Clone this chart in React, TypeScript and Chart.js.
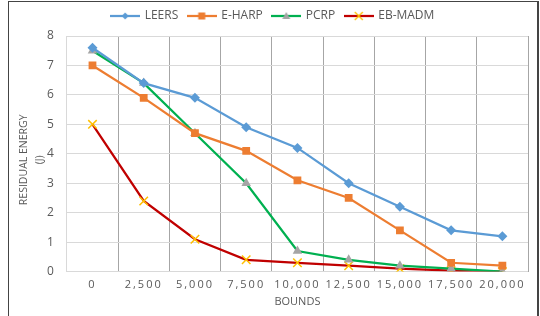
import React, { useEffect, useRef } from "react";
import { Chart, registerables } from "chart.js";

Chart.register(...registerables);

const categories = ["0", "2,500", "5,000", "7,500", "10,000", "12,500", "15,000", "17,500", "20,000"];
const leers = [7.6, 6.4, 5.9, 4.9, 4.2, 3.0, 2.2, 1.4, 1.2];
const eharp = [7.0, 5.9, 4.7, 4.1, 3.1, 2.5, 1.4, 0.3, 0.2];
const pcrp = [7.5, 6.4, 4.7, 3.0, 0.7, 0.4, 0.2, 0.1, 0.0];
const ebmadm = [5.0, 2.4, 1.1, 0.4, 0.3, 0.2, 0.1, 0.03, 0.0];
const yTicks = [0, 1, 2, 3, 4, 5, 6, 7, 8];
const yTitle = ["RESIDUAL ENERGY", "(J)"];

const FONT = "'Open Sans', sans-serif";
const TXT = "#595959";

function legendImage(line: string, marker: string, style: string): HTMLCanvasElement {
  const c = document.createElement("canvas");
  c.width = 30;
  c.height = 12;
  const ctx = c.getContext("2d")!;
  ctx.strokeStyle = line;
  ctx.lineWidth = 2.25;
  ctx.beginPath();
  ctx.moveTo(0, 6);
  ctx.lineTo(30, 6);
  ctx.stroke();
  const cx = 15, cy = 6;
  ctx.fillStyle = marker;
  ctx.strokeStyle = marker;
  if (style === "diamond") {
    ctx.beginPath();
    ctx.moveTo(cx, cy - 3.5);
    ctx.lineTo(cx + 3.5, cy);
    ctx.lineTo(cx, cy + 3.5);
    ctx.lineTo(cx - 3.5, cy);
    ctx.closePath();
    ctx.fill();
  } else if (style === "square") {
    ctx.fillRect(cx - 3.5, cy - 3.5, 7, 7);
  } else if (style === "triangle") {
    ctx.beginPath();
    ctx.moveTo(cx, cy - 4);
    ctx.lineTo(cx + 4, cy + 3);
    ctx.lineTo(cx - 4, cy + 3);
    ctx.closePath();
    ctx.fill();
  } else {
    ctx.lineWidth = 1.3;
    ctx.beginPath();
    ctx.moveTo(cx - 4, cy - 4);
    ctx.lineTo(cx + 4, cy + 4);
    ctx.moveTo(cx + 4, cy - 4);
    ctx.lineTo(cx - 4, cy + 4);
    ctx.stroke();
  }
  return c;
}

export default function App() {
  const ref = useRef<HTMLCanvasElement>(null);
  useEffect(() => {
    const canvas = ref.current!;
    const imgs = [
      legendImage("#5B9BD5", "#5B9BD5", "diamond"),
      legendImage("#ED7D31", "#ED7D31", "square"),
      legendImage("#00B050", "#A5A5A5", "triangle"),
      legendImage("#C00000", "#FFC000", "x"),
    ];
    const helperPlugin = {
      id: "helper",
      beforeLayout(chart: any) {
        const lg = chart.legend;
        if (lg && !lg._patched) {
          const origFit = lg.fit.bind(lg);
          lg.fit = () => {
            origFit();
            lg.height += 4;
          };
          lg._patched = true;
        }
      },
      afterLayout(chart: any) {
        const s = chart.scales.x;
        if (s && !s._patched) {
          const orig = s.drawLabels.bind(s);
          s.drawLabels = (area: any) => {
            const ctx = chart.ctx;
            ctx.save();
            (ctx as any).letterSpacing = "2px";
            orig(area);
            ctx.restore();
          };
          s._patched = true;
        }
      },
      afterDraw(chart: any) {
        const ctx = chart.ctx;
        const y = chart.scales.y;
        const cy = (chart.chartArea.top + chart.chartArea.bottom) / 2 + 6;
        ctx.save();
        ctx.fillStyle = TXT;
        ctx.font = `10.5px ${FONT}`;
        ctx.textAlign = "center";
        ctx.textBaseline = "middle";
        const xs = [y.left + 6, y.left + 22];
        yTitle.forEach((t, i) => {
          ctx.save();
          ctx.translate(xs[i], cy);
          ctx.rotate(-Math.PI / 2);
          ctx.fillText(t, 0, 0);
          ctx.restore();
        });
        ctx.restore();
      },
    };
    const nCat = categories.length;
    const chart = new Chart(canvas, {
      type: "line",
      data: {
        labels: categories,
        datasets: [
          {
            label: "LEERS",
            data: leers,
            borderColor: "#5B9BD5",
            backgroundColor: "#5B9BD5",
            pointStyle: "rectRot",
            pointRadius: 5,
            pointBorderWidth: 0,
            borderWidth: 2.25,
          },
          {
            label: "E-HARP",
            data: eharp,
            borderColor: "#ED7D31",
            backgroundColor: "#ED7D31",
            pointStyle: "rect",
            pointRadius: 5.5,
            pointBorderWidth: 0,
            borderWidth: 2.25,
          },
          {
            label: "PCRP",
            data: pcrp,
            borderColor: "#00B050",
            backgroundColor: "#A5A5A5",
            pointBackgroundColor: "#A5A5A5",
            pointBorderColor: "#A5A5A5",
            pointStyle: "triangle",
            pointRadius: 5.5,
            pointBorderWidth: 0,
            borderWidth: 2.25,
          },
          {
            label: "EB-MADM",
            data: ebmadm,
            borderColor: "#C00000",
            backgroundColor: "#FFC000",
            pointBackgroundColor: "#FFC000",
            pointBorderColor: "#FFC000",
            pointStyle: "crossRot",
            pointRadius: 6,
            pointBorderWidth: 1.5,
            borderWidth: 2.25,
          },
        ],
      },
      options: {
        animation: false,
        responsive: false,
        maintainAspectRatio: false,
        layout: { padding: { left: 18, right: 12, top: 0, bottom: 8 } },
        plugins: {
          tooltip: { enabled: false },
          legend: {
            position: "top",
            labels: {
              usePointStyle: true,
              pointStyleWidth: 27,
              boxHeight: 11,
              padding: 10,
              color: TXT,
              font: { family: FONT, size: 12 },
              generateLabels: (ch: any) =>
                ch.data.datasets.map((d: any, i: number) => ({
                  text: d.label,
                  pointStyle: imgs[i],
                  fillStyle: "transparent",
                  strokeStyle: "transparent",
                  lineWidth: 0,
                  fontColor: TXT,
                  datasetIndex: i,
                  hidden: false,
                })),
            },
          },
        },
        scales: {
          x: {
            offset: true,
            grid: {
              offset: true,
              color: (c: any) => (c.index === 0 || c.index === nCat ? "#D9D9D9" : "#A6A6A6"),
              drawTicks: false,
            },
            border: { display: false },
            ticks: { color: TXT, font: { family: FONT, size: 11 }, padding: 7, maxRotation: 0, autoSkip: false },
            title: { display: true, text: "BOUNDS", color: TXT, font: { family: FONT, size: 11 }, padding: { top: -4, bottom: 0 } },
          },
          y: {
            min: 0,
            max: 8,
            afterBuildTicks: (s: any) => {
              s.ticks = yTicks.map((v) => ({ value: v }));
            },
            grid: { color: "#D9D9D9", drawTicks: false },
            border: { display: false },
            ticks: { color: TXT, font: { family: FONT, size: 12 }, padding: 13 },
            title: {
              display: true,
              text: yTitle,
              color: "rgba(0,0,0,0)",
              font: { family: FONT, size: 10 },
              padding: { top: 0, bottom: -8 },
            },
          },
        },
      },
      plugins: [helperPlugin],
    });
    return () => chart.destroy();
  }, []);
  return (
    <div style={{ position: "fixed", left: 0, top: 0, width: 540, height: 316, background: "#fff" }}>
      <canvas ref={ref} width={540} height={316} style={{ position: "absolute", left: 0, top: 0 }} />
      <div
        style={{
          position: "absolute",
          left: 8,
          top: 1,
          width: 528,
          height: 330,
          borderLeft: "1px solid #444",
          borderTop: "1px solid #444",
          borderRight: "2px solid #444",
          pointerEvents: "none",
        }}
      />
    </div>
  );
}
